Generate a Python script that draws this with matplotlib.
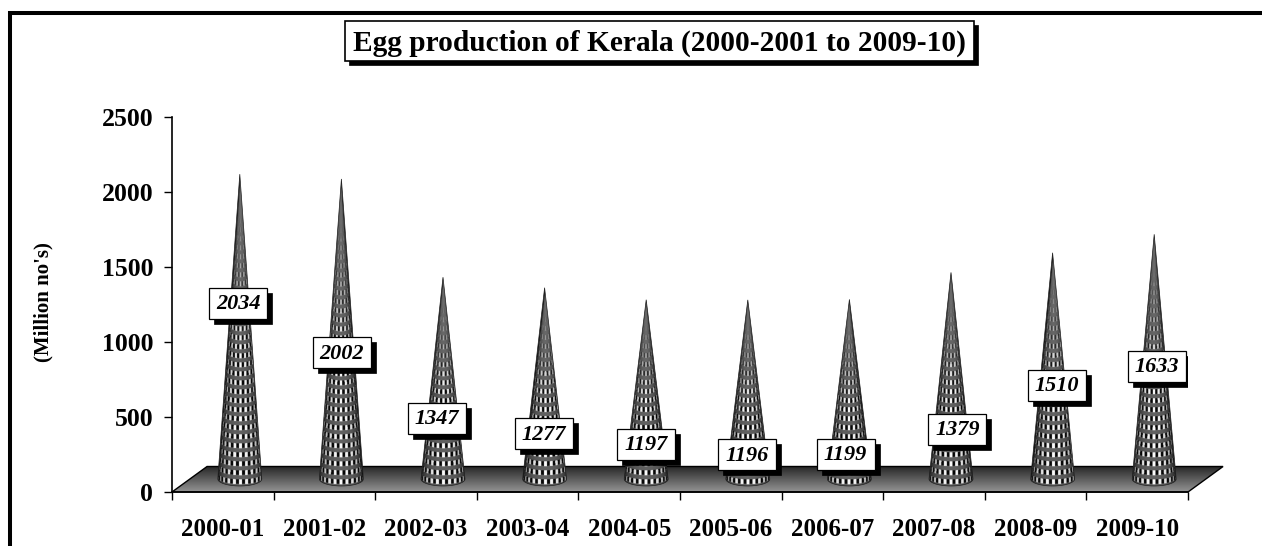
import numpy as np
import matplotlib
matplotlib.use("Agg")
import matplotlib.pyplot as plt
from matplotlib.patches import Polygon, Rectangle
from matplotlib.lines import Line2D

categories = ['2000-01', '2001-02', '2002-03', '2003-04', '2004-05',
              '2005-06', '2006-07', '2007-08', '2008-09', '2009-10']
values = [2034, 2002, 1347, 1277, 1197, 1196, 1199, 1379, 1510, 1633]
y_ticks = [0, 500, 1000, 1500, 2000, 2500]
title = 'Egg production of Kerala (2000-2001 to 2009-10)'
y_title = "(Million no's)"

# label box centres, moved by hand in the original chart
label_x = [0.65, 1.67, 2.61, 3.66, 4.67, 5.66, 6.63, 7.73, 8.71, 9.69]
label_y = [1260, 927, 493, 387, 320, 247, 253, 420, 713, 840]

W, H = 1262, 546
plt.rcParams['font.family'] = ['Liberation Serif', 'DejaVu Serif']
fig = plt.figure(figsize=(W / 100, H / 100), dpi=100, facecolor='white')
L, R, T, B = 172, 1188, 117, 492
ax = fig.add_axes([L / W, (H - B) / H, (R - L) / W, (B - T) / H])
ax.set_xlim(0, 10)
ax.set_ylim(0, 2500)
PX = (R - L) / 10       # pixels per category
PY = (B - T) / 2500     # pixels per unit

# outer frame (top and left only are visible)
fig.add_artist(Line2D([9.5 / W, 9.5 / W, 1], [0, 1 - 13 / H, 1 - 13 / H],
                      color='black', lw=2.9, solid_joinstyle='miter'))

# floor
depth_x, depth_y = 0.345, 170
floor_pts = [(0, 0), (depth_x, depth_y), (10 + depth_x, depth_y), (10, 0)]
floor = Polygon(floor_pts, closed=True, fc='none', ec='black', lw=1.0,
                zorder=1.5, clip_on=False)
ax.add_patch(floor)
grad = np.linspace(0.15, 0.58, 64)[:, None]
im = ax.imshow(grad, extent=(0, 10 + depth_x, 0, depth_y), origin='upper', cmap='gray',
               vmin=0, vmax=1, aspect='auto', zorder=1)
im.set_clip_box(fig.bbox)
im.set_clip_path(floor)


def cone(center, value):
    tip = value + 85
    base = 87
    half = 22 / PX
    semi = 7 / PY
    th = np.linspace(np.pi, 2 * np.pi, 40)
    pts = [(center, tip)] + [(center + half * np.cos(a), base + semi * np.sin(a)) for a in th]
    poly = Polygon(pts, closed=True, fc='none', ec='#222222', lw=0.5, zorder=2.1)
    ax.add_patch(poly)
    # woven texture evaluated per sub-pixel
    ss = 3
    nx = int(2 * half * PX * ss) + 1
    ybot = base - semi
    ny = int((tip - ybot) * PY * ss) + 1
    xs = np.linspace(-22, 22, nx)
    ys = np.linspace(0, (tip - ybot) * PY, ny)  # pixels above the lowest point
    X, Y = np.meshgrid(xs, ys)
    height_px = (tip - base) * PY
    t = np.clip(1 - (Y - 7) / height_px, 0.004, 1)
    u = np.clip(X / (22 * t), -1, 1)
    theta = np.arcsin(u)
    rowpos = (Y - 6 * (1 - np.cos(theta))) / 9.0
    r = rowpos - np.floor(rowpos)
    c = np.cos(theta * 23 * np.sqrt(t))
    img = np.full(X.shape, 0.38)
    img[(c > 0.0) & (r > 0.18) & (r < 0.72)] = 0.98
    img[(c <= 0.0) & (r > 0.22) & (r < 0.72)] = 0.03
    shade = 0.12 + 0.88 * np.cos(theta) ** 0.8
    img = img * shade
    # fade the pattern into a dark grey toward the tip
    fade = np.clip((t - 0.12) / 0.45, 0, 1)
    core = 0.42 * shade
    img = img * fade + core * (1 - fade)
    c_im = ax.imshow(img, extent=(center - half, center + half, ybot, tip), origin='lower',
                     cmap='gray', vmin=0, vmax=1, aspect='auto', zorder=2,
                     interpolation='antialiased')
    c_im.set_clip_box(fig.bbox)
    c_im.set_clip_path(poly)


for i, v in enumerate(values):
    cone(i + 0.5 + 17 / PX, v)

# data labels
bw, bh = 58 / PX, 31 / PY
sx, sy = 5 / PX, 5 / PY
for x, y, v in zip(label_x, label_y, values):
    ax.add_patch(Rectangle((x - bw / 2 + sx, y - bh / 2 - sy), bw, bh, fc='black', ec='black',
                           lw=0.5, zorder=3))
    ax.add_patch(Rectangle((x - bw / 2, y - bh / 2), bw, bh, fc='white', ec='black',
                           lw=0.9, zorder=3.1))
    ax.text(x, y - 6, str(v), ha='center', va='center', fontsize=16, fontweight='bold',
            fontstyle='italic', zorder=3.2, color='black')

# axes
for s in ('top', 'right'):
    ax.spines[s].set_visible(False)
for s in ('left', 'bottom'):
    ax.spines[s].set_linewidth(1.2)
    ax.spines[s].set_zorder(4)
ax.set_xticks(range(11))
ax.set_xticklabels([])
ax.set_xticks(np.arange(10) + 0.5, categories, minor=True)
ax.tick_params(axis='x', which='major', length=5.5, width=1.0)
ax.tick_params(axis='x', which='minor', length=0, pad=18.5, labelsize=18)
for lab in ax.get_xticklabels(minor=True):
    lab.set_fontweight('bold')
ax.set_yticks(y_ticks)
ax.tick_params(axis='y', length=5.5, width=1.0, pad=8, labelsize=18.5)
for lab in ax.get_yticklabels():
    lab.set_fontweight('bold')

fig.text(43 / W, 1 - 302 / H, y_title, rotation=90, ha='center', va='center',
         fontsize=15, fontweight='bold')

# title box
fig.add_artist(Rectangle((349 / W, 1 - 65 / H), 629 / W, 40 / H, fc='black', ec='black', lw=0.5,
                         transform=fig.transFigure))
fig.add_artist(Rectangle((344.5 / W, 1 - 61 / H), 629 / W, 40 / H, fc='white', ec='black', lw=1.2,
                         transform=fig.transFigure))
fig.text(659 / W, 1 - 43 / H, title, ha='center', va='center', fontsize=21.2, fontweight='bold')

fig.savefig('out.png', dpi=100, facecolor='white')
